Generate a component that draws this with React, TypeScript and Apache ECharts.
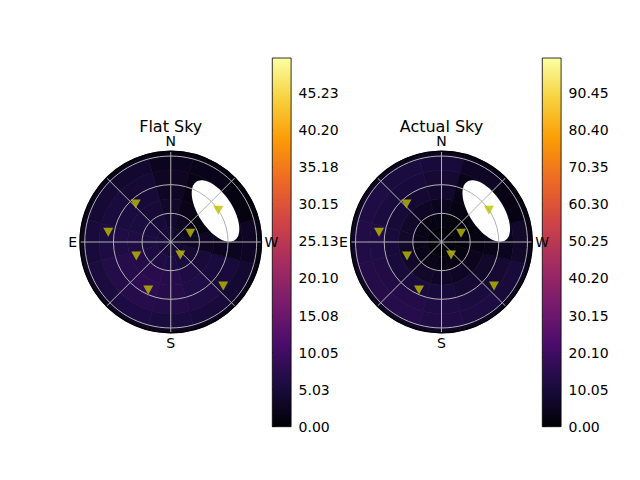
import React, { useEffect, useRef } from 'react';
import * as echarts from 'echarts';

// Radial bins (zenith distance) and azimuth sectors of the sky maps
const RING_EDGES = [0, 15, 30, 45, 60, 75, 90, 95];
const AZIMUTHS = [0, 30, 60, 90, 120, 150, 180, 210, 240, 270, 300, 330];
const SECTOR_WIDTH = 30;

// One row per azimuth sector, one value per ring (inner -> outer)
const FLAT_SKY = [
  [4.5, 4.0, 3.5, 3.0, 2.8, 2.5, 1.6],
  [4.8, 4.8, 4.8, 4.8, 4.5, 4.0, 2.2],
  [5.0, 5.2, 5.5, 5.5, 5.2, 4.5, 2.4],
  [5.0, 5.5, 6.0, 6.0, 5.8, 5.0, 2.6],
  [5.0, 5.8, 6.5, 6.8, 6.5, 5.5, 2.8],
  [5.0, 6.0, 7.2, 7.8, 7.0, 5.8, 2.9],
  [4.8, 5.8, 6.8, 7.0, 6.5, 5.5, 2.8],
  [4.5, 5.2, 6.0, 6.2, 6.0, 5.0, 2.5],
  [4.0, 4.5, 5.0, 5.2, 5.0, 4.2, 2.2],
  [3.5, 3.0, 2.8, 2.5, 2.5, 3.0, 1.6],
  [3.0, 2.0, 1.2, 0.5, 0.5, 1.2, 1.0],
  [3.5, 2.8, 2.0, 1.5, 1.5, 2.0, 1.3],
];

const ACTUAL_SKY = [
  [1.0, 2.5, 5.0, 7.5, 9.0, 10.0, 5.5],
  [1.0, 3.0, 6.0, 8.5, 10.0, 11.0, 5.5],
  [1.0, 3.5, 7.0, 9.5, 11.0, 12.0, 6.5],
  [1.0, 3.5, 7.0, 10.0, 12.0, 12.5, 6.5],
  [1.0, 3.5, 7.0, 10.0, 12.5, 13.0, 6.5],
  [1.0, 3.5, 7.0, 10.5, 13.0, 13.5, 6.5],
  [1.0, 3.0, 6.5, 10.0, 12.0, 12.5, 6.5],
  [1.0, 3.0, 6.0, 9.0, 11.0, 11.5, 6.0],
  [1.0, 2.5, 4.5, 7.0, 9.0, 10.0, 5.5],
  [0.8, 1.5, 2.5, 3.5, 5.0, 7.0, 4.0],
  [0.8, 1.0, 1.0, 0.5, 0.5, 3.0, 3.0],
  [1.0, 1.5, 2.5, 3.0, 4.0, 6.0, 4.0],
];

// Station markers (zenith distance, azimuth in degrees from N through E)
const STATION_RADIUS = [54.1, 66.2, 22.4, 59.8, 38.9, 16.9, 55.5, 71.7];
const STATION_AZIMUTH = [42.7, 81.2, 294, 303.7, 112.1, 216.3, 154.9, 230];

// Masked (blank) region: centre (radius, azimuth), semi-axes, tilt on screen
const MASK_RADIUS = 57.0;
const MASK_AZIMUTH = 304.7;
const MASK_SEMI_MAJOR = 36.6;
const MASK_SEMI_MINOR = 17.8;
const MASK_TILT = 57;

const FLAT_MAX = 50;
const ACTUAL_MAX = 100;
const FLAT_TICKS = [0, 5.03, 10.05, 15.08, 20.1, 25.13, 30.15, 35.18, 40.2, 45.23];
const ACTUAL_TICKS = [0, 10.05, 20.1, 30.15, 40.2, 50.25, 60.3, 70.35, 80.4, 90.45];
const TITLES = ['Flat Sky', 'Actual Sky'];
const COMPASS: Record<number, string> = { 0: 'N', 90: 'E', 180: 'S', 270: 'W' };

const INFERNO = ['#000004', '#1b0c41', '#4a0c6b', '#781c6d', '#a52c60', '#cf4446', '#ed6925', '#fb9b06', '#f7d13d', '#fcffa4'];

const FONT = 'DejaVu Sans';
const R_MAX = RING_EDGES[RING_EDGES.length - 1];

function cells(table: number[][]) {
  const out: number[][] = [];
  AZIMUTHS.forEach((az, i) => {
    for (let j = 0; j < RING_EDGES.length - 1; j++) {
      out.push([RING_EDGES[j], RING_EDGES[j + 1], az - SECTOR_WIDTH / 2, az + SECTOR_WIDTH / 2, table[i][j]]);
    }
  });
  return out;
}

function renderCell(_params: any, api: any) {
  const r0 = api.value(0), r1 = api.value(1), a0 = api.value(2), a1 = api.value(3);
  const pts: number[][] = [];
  const N = 8;
  for (let k = 0; k <= N; k++) pts.push(api.coord([r1, a0 + ((a1 - a0) * k) / N]));
  for (let k = N; k >= 0; k--) pts.push(api.coord([r0, a0 + ((a1 - a0) * k) / N]));
  const color = api.visual('color');
  return { type: 'polygon', shape: { points: pts }, style: { fill: color, stroke: color, lineWidth: 0.7 } };
}

function renderMask(_params: any, api: any) {
  const c = api.coord([api.value(0), api.value(1)]);
  const o = api.coord([0, 0]);
  const ref = api.coord([R_MAX, 0]);
  const unit = Math.hypot(ref[0] - o[0], ref[1] - o[1]) / R_MAX;
  const a = api.value(2) * unit;
  const b = api.value(3) * unit;
  const th = (api.value(4) * Math.PI) / 180;
  const pts: number[][] = [];
  const n = 90;
  for (let k = 0; k < n; k++) {
    const t = (k / n) * Math.PI * 2;
    pts.push([
      c[0] + a * Math.cos(t) * Math.cos(th) - b * Math.sin(t) * Math.sin(th),
      c[1] + a * Math.cos(t) * Math.sin(th) + b * Math.sin(t) * Math.cos(th),
    ]);
  }
  const horizon = o[1];
  const out: number[][] = [];
  for (let i = 0; i < n; i++) {
    const p = pts[i], q = pts[(i + 1) % n];
    const pin = p[1] <= horizon, qin = q[1] <= horizon;
    if (pin) out.push(p);
    if (pin !== qin) {
      const t = (horizon - p[1]) / (q[1] - p[1]);
      out.push([p[0] + t * (q[0] - p[0]), horizon]);
    }
  }
  return { type: 'polygon', shape: { points: out }, style: { fill: '#ffffff' } };
}

function renderBar(_params: any, api: any) {
  const p0 = api.coord([0, api.value(0)]);
  const p1 = api.coord([1, api.value(1)]);
  return {
    type: 'rect',
    shape: { x: p0[0], y: p1[1], width: p1[0] - p0[0], height: p0[1] - p1[1] },
    style: {
      fill: new echarts.graphic.LinearGradient(
        0, 1, 0, 0,
        INFERNO.map((color, i) => ({ offset: i / (INFERNO.length - 1), color }))
      ),
      stroke: '#000',
      lineWidth: 0.8,
    },
  };
}

const POLAR_CENTERS = [170.75, 441.5];
const POLAR_CY = 242;
const POLAR_R = 90.75;
const BAR_LEFT = [272.3, 542.3];

export default function App() {
  const ref = useRef<HTMLDivElement>(null);
  useEffect(() => {
    document.body.style.margin = '0';
    if (!ref.current) return;
    const chart = echarts.init(ref.current, null, { renderer: 'svg' });
    const tables = [FLAT_SKY, ACTUAL_SKY];
    const maxes = [FLAT_MAX, ACTUAL_MAX];
    const ticks = [FLAT_TICKS, ACTUAL_TICKS];
    const stations = STATION_RADIUS.map((r, i) => [r, STATION_AZIMUTH[i]]);

    const series: any[] = [];
    [0, 1].forEach((p) => {
      series.push({
        type: 'custom',
        coordinateSystem: 'polar',
        polarIndex: p,
        renderItem: renderCell,
        encode: { radius: 0, angle: 2 },
        data: cells(tables[p]),
        z: 1,
        silent: true,
      });
      series.push({
        type: 'custom',
        coordinateSystem: 'polar',
        polarIndex: p,
        renderItem: renderMask,
        encode: { radius: 0, angle: 1 },
        data: [[MASK_RADIUS, MASK_AZIMUTH, MASK_SEMI_MAJOR, MASK_SEMI_MINOR, MASK_TILT]],
        z: 2,
        silent: true,
      });
      series.push({
        type: 'scatter',
        coordinateSystem: 'polar',
        polarIndex: p,
        symbol: 'triangle',
        symbolRotate: 180,
        symbolSize: [10, 9],
        itemStyle: { color: '#bfbf00' },
        data: stations,
        z: 10,
      });
    });
    [0, 1].forEach((p) => {
      series.push({
        type: 'custom',
        xAxisIndex: p,
        yAxisIndex: p,
        renderItem: renderBar,
        encode: { x: 0, y: 1 },
        data: [[0, maxes[p]]],
        silent: true,
      });
    });

    chart.setOption({
      animation: false,
      textStyle: { fontFamily: FONT },
      title: TITLES.map((t, p) => ({
        text: t,
        left: POLAR_CENTERS[p],
        top: 118.5,
        textAlign: 'center',
        padding: 0,
        textStyle: { fontSize: 16, fontWeight: 'normal', color: '#000', fontFamily: FONT },
      })),
      polar: POLAR_CENTERS.map((cx) => ({ center: [cx, POLAR_CY], radius: POLAR_R })),
      angleAxis: [0, 1].map((p) => ({
        polarIndex: p,
        type: 'value',
        min: 0,
        max: 360,
        interval: 45,
        startAngle: 90,
        clockwise: false,
        z: 5,
        axisLine: { show: true, lineStyle: { color: '#000', width: 1.3 } },
        axisTick: { show: false },
        axisLabel: {
          margin: 3,
          fontSize: 14,
          color: '#000',
          fontFamily: FONT,
          formatter: (v: number) => COMPASS[v] || '',
        },
        splitLine: { show: true, lineStyle: { color: '#b0b0b0', width: 1 } },
      })),
      radiusAxis: [0, 1].map((p) => ({
        polarIndex: p,
        type: 'value',
        min: 0,
        max: R_MAX,
        interval: 30,
        z: 5,
        axisLine: { show: false },
        axisTick: { show: false },
        axisLabel: { show: false },
        splitLine: {
          show: true,
          lineStyle: { color: ['#b0b0b0', '#b0b0b0', '#b0b0b0', '#b0b0b0', 'rgba(0,0,0,0)'], width: 1 },
        },
      })),
      grid: BAR_LEFT.map((left) => ({ left, top: 58, width: 18.8, height: 368.7 })),
      xAxis: [0, 1].map((p) => ({ gridIndex: p, type: 'value', min: 0, max: 1, show: false })),
      yAxis: [0, 1].map((p) => ({
        gridIndex: p,
        type: 'value',
        min: 0,
        max: maxes[p],
        position: 'right',
        axisLine: { show: false },
        splitLine: { show: false },
        axisTick: { show: true, length: 3.5, lineStyle: { color: '#000', width: 0.8 }, customValues: ticks[p] },
        axisLabel: {
          customValues: ticks[p],
          margin: 7.5,
          fontSize: 14,
          color: '#000',
          fontFamily: FONT,
          formatter: (v: number) => v.toFixed(2),
        },
      })),
      visualMap: [0, 1].map((p) => ({
        type: 'continuous',
        show: false,
        min: 0,
        max: maxes[p],
        dimension: 4,
        seriesIndex: p * 3,
        inRange: { color: INFERNO },
      })),
      series,
    });
    return () => chart.dispose();
  }, []);
  return <div ref={ref} style={{ width: 640, height: 480 }} />;
}
